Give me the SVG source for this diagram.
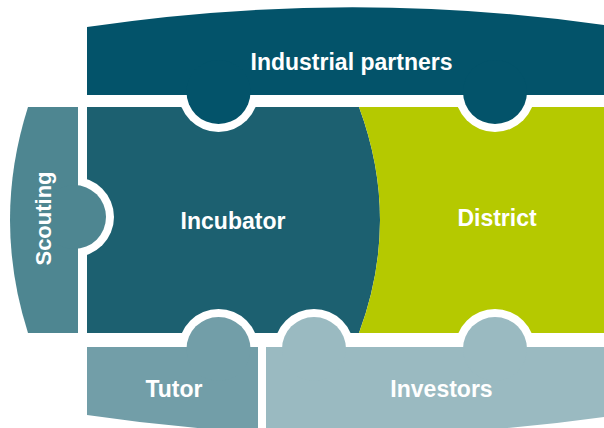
<svg xmlns="http://www.w3.org/2000/svg" width="604" height="428" viewBox="0 0 604 428">
<style>
  .lbl { font-family: "Liberation Sans", Arial, sans-serif; font-weight: bold; font-size: 23px; fill: #ffffff; text-anchor: middle; }
  .ring { fill: #ffffff; }
  .ind { fill: #03536A; }
  .inc { fill: #1C6070; }
  .dis { fill: #B5C900; }
  .sco { fill: #4E8691; }
  .tut { fill: #729EA8; }
  .inv { fill: #9ABAC1; }
</style>
<defs>
  <clipPath id="bottomEdge">
    <path d="M0,0 L604,0 L604,417 Q345.5,453.4 87,415 L0,415 Z"/>
  </clipPath>
</defs>
<rect x="0" y="0" width="604" height="428" fill="#ffffff"/>
<g id="incubator">
  <path class="inc" d="M87,107 L359,107 Q401,220 359,333 L87,333 Z"/>
</g>
<g id="district">
  <path class="dis" d="M359,107 L604,107 L604,333 L359,333 Q401,220 359,107 Z"/>
</g>
<g id="connectors">
  <circle class="ring" cx="218.5" cy="92" r="40"/>
  <circle class="ring" cx="495" cy="92" r="40"/>
  <circle class="ring" cx="74" cy="217" r="40"/>
  <circle class="ring" cx="218.5" cy="349" r="40"/>
  <circle class="ring" cx="314" cy="349" r="40"/>
  <circle class="ring" cx="495" cy="349" r="40"/>
</g>
<g id="scouting">
  <path class="sco" d="M28,107 L78,107 L78,333 L28,333 Q-8,220 28,107 Z"/>
  <circle class="sco" cx="74" cy="217" r="32"/>
  <text class="lbl" style="font-size:22px" transform="translate(51,218.5) rotate(-90)">Scouting</text>
</g>
<g id="industrial-partners">
  <path class="ind" d="M87,27 Q345.5,-11.4 604,25 L604,95 L87,95 Z"/>
  <circle class="ind" cx="218.5" cy="92" r="32"/>
  <circle class="ind" cx="495" cy="92" r="32"/>
  <text class="lbl" x="351.5" y="70">Industrial partners</text>
</g>
<g id="tutor">
  <g clip-path="url(#bottomEdge)">
    <rect class="tut" x="87" y="347" width="171" height="90"/>
  </g>
  <circle class="tut" cx="218.5" cy="349" r="32"/>
  <text class="lbl" x="174" y="397">Tutor</text>
</g>
<g id="investors">
  <g clip-path="url(#bottomEdge)">
    <rect class="inv" x="266" y="347" width="338" height="90"/>
  </g>
  <circle class="inv" cx="314" cy="349" r="32"/>
  <circle class="inv" cx="495" cy="349" r="32"/>
  <text class="lbl" x="441.5" y="397">Investors</text>
</g>
<text class="lbl" x="233" y="229">Incubator</text>
<text class="lbl" x="497" y="226">District</text>
</svg>
